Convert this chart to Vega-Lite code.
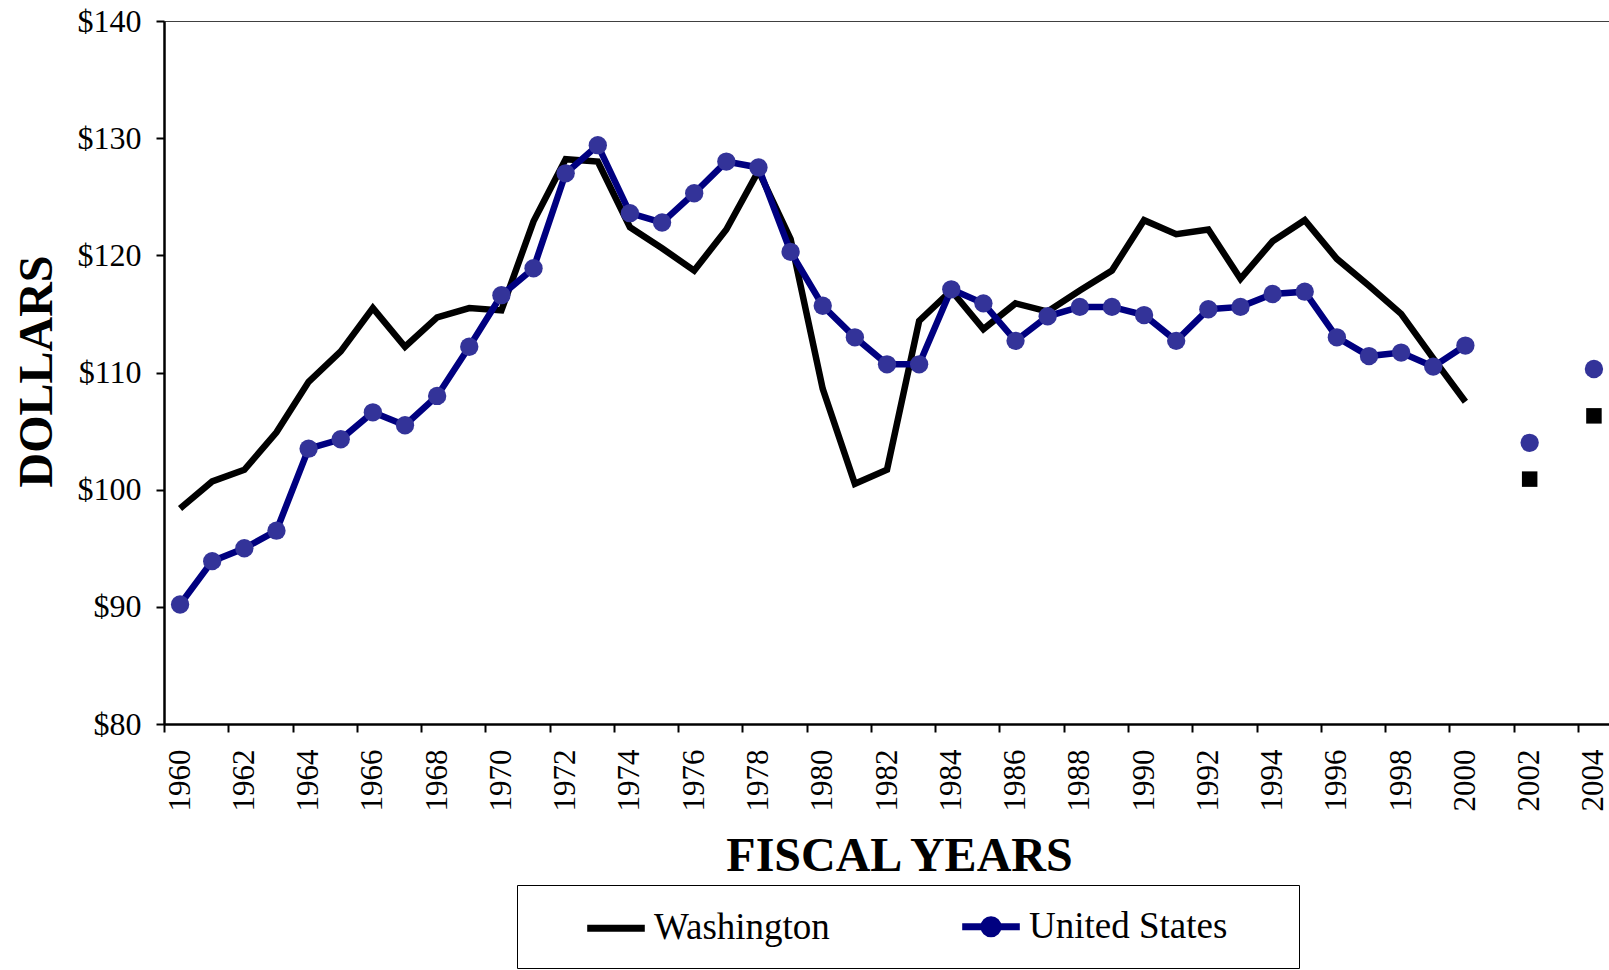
{
  "$schema": "https://vega.github.io/schema/vega-lite/v6.json",
  "width": 1446,
  "height": 703,
  "autosize": "none",
  "padding": {"left": 164, "top": 21, "right": 0, "bottom": 246},
  "background": "white",
  "config": {
    "view": {"stroke": "#404040", "strokeWidth": 1},
    "font": "Liberation Serif",
    "axis": {"labelFont": "Liberation Serif", "titleFont": "Liberation Serif", "labelColor": "#000", "titleColor": "#000", "domainColor": "#000", "tickColor": "#000", "grid": false}
  },
  "data": {"values": [
    {"year": 1960, "series": "Washington", "value": 98.4},
    {"year": 1961, "series": "Washington", "value": 100.7},
    {"year": 1962, "series": "Washington", "value": 101.7},
    {"year": 1963, "series": "Washington", "value": 104.9},
    {"year": 1964, "series": "Washington", "value": 109.2},
    {"year": 1965, "series": "Washington", "value": 111.8},
    {"year": 1966, "series": "Washington", "value": 115.5},
    {"year": 1967, "series": "Washington", "value": 112.2},
    {"year": 1968, "series": "Washington", "value": 114.7},
    {"year": 1969, "series": "Washington", "value": 115.5},
    {"year": 1970, "series": "Washington", "value": 115.3},
    {"year": 1971, "series": "Washington", "value": 122.9},
    {"year": 1972, "series": "Washington", "value": 128.2},
    {"year": 1973, "series": "Washington", "value": 128.0},
    {"year": 1974, "series": "Washington", "value": 122.4},
    {"year": 1975, "series": "Washington", "value": 120.6},
    {"year": 1976, "series": "Washington", "value": 118.7},
    {"year": 1977, "series": "Washington", "value": 122.2},
    {"year": 1978, "series": "Washington", "value": 127.2},
    {"year": 1979, "series": "Washington", "value": 121.4},
    {"year": 1980, "series": "Washington", "value": 108.6},
    {"year": 1981, "series": "Washington", "value": 100.5},
    {"year": 1982, "series": "Washington", "value": 101.7},
    {"year": 1983, "series": "Washington", "value": 114.4},
    {"year": 1984, "series": "Washington", "value": 117.0},
    {"year": 1985, "series": "Washington", "value": 113.7},
    {"year": 1986, "series": "Washington", "value": 115.9},
    {"year": 1987, "series": "Washington", "value": 115.2},
    {"year": 1988, "series": "Washington", "value": 117.0},
    {"year": 1989, "series": "Washington", "value": 118.7},
    {"year": 1990, "series": "Washington", "value": 123.0},
    {"year": 1991, "series": "Washington", "value": 121.8},
    {"year": 1992, "series": "Washington", "value": 122.2},
    {"year": 1993, "series": "Washington", "value": 118.0},
    {"year": 1994, "series": "Washington", "value": 121.2},
    {"year": 1995, "series": "Washington", "value": 123.0},
    {"year": 1996, "series": "Washington", "value": 119.7},
    {"year": 1997, "series": "Washington", "value": 117.4},
    {"year": 1998, "series": "Washington", "value": 115.0},
    {"year": 1999, "series": "Washington", "value": 111.2},
    {"year": 2000, "series": "Washington", "value": 107.5},
    {"year": 2002, "series": "Washington", "value": 100.9},
    {"year": 2004, "series": "Washington", "value": 106.3},
    {"year": 1960, "series": "United States", "value": 90.2},
    {"year": 1961, "series": "United States", "value": 93.9},
    {"year": 1962, "series": "United States", "value": 95.0},
    {"year": 1963, "series": "United States", "value": 96.5},
    {"year": 1964, "series": "United States", "value": 103.5},
    {"year": 1965, "series": "United States", "value": 104.3},
    {"year": 1966, "series": "United States", "value": 106.6},
    {"year": 1967, "series": "United States", "value": 105.5},
    {"year": 1968, "series": "United States", "value": 108.0},
    {"year": 1969, "series": "United States", "value": 112.2},
    {"year": 1970, "series": "United States", "value": 116.6},
    {"year": 1971, "series": "United States", "value": 118.9},
    {"year": 1972, "series": "United States", "value": 127.0},
    {"year": 1973, "series": "United States", "value": 129.4},
    {"year": 1974, "series": "United States", "value": 123.6},
    {"year": 1975, "series": "United States", "value": 122.8},
    {"year": 1976, "series": "United States", "value": 125.3},
    {"year": 1977, "series": "United States", "value": 128.0},
    {"year": 1978, "series": "United States", "value": 127.5},
    {"year": 1979, "series": "United States", "value": 120.3},
    {"year": 1980, "series": "United States", "value": 115.7},
    {"year": 1981, "series": "United States", "value": 113.0},
    {"year": 1982, "series": "United States", "value": 110.7},
    {"year": 1983, "series": "United States", "value": 110.7},
    {"year": 1984, "series": "United States", "value": 117.1},
    {"year": 1985, "series": "United States", "value": 115.9},
    {"year": 1986, "series": "United States", "value": 112.7},
    {"year": 1987, "series": "United States", "value": 114.8},
    {"year": 1988, "series": "United States", "value": 115.6},
    {"year": 1989, "series": "United States", "value": 115.6},
    {"year": 1990, "series": "United States", "value": 114.9},
    {"year": 1991, "series": "United States", "value": 112.7},
    {"year": 1992, "series": "United States", "value": 115.4},
    {"year": 1993, "series": "United States", "value": 115.6},
    {"year": 1994, "series": "United States", "value": 116.7},
    {"year": 1995, "series": "United States", "value": 116.9},
    {"year": 1996, "series": "United States", "value": 113.0},
    {"year": 1997, "series": "United States", "value": 111.4},
    {"year": 1998, "series": "United States", "value": 111.7},
    {"year": 1999, "series": "United States", "value": 110.5},
    {"year": 2000, "series": "United States", "value": 112.3},
    {"year": 2002, "series": "United States", "value": 104.0},
    {"year": 2004, "series": "United States", "value": 110.3}
  ]},
  "encoding": {
    "x": {
      "field": "year", "type": "quantitative",
      "scale": {"domain": [1959.5, 2004.5], "nice": false, "zero": false},
      "axis": {
        "values": [1960, 1962, 1964, 1966, 1968, 1970, 1972, 1974, 1976, 1978, 1980, 1982, 1984, 1986, 1988, 1990, 1992, 1994, 1996, 1998, 2000, 2002, 2004],
        "format": "d", "tickOffset": -16.07, "labelOffset": 16.07, "labelAngle": -90,
        "labelFontSize": 31, "labelPadding": 17, "labelFlush": false, "labelOverlap": false, "labelBound": false,
        "tickSize": 8, "tickWidth": 2, "domainWidth": 2.5,
        "title": "FISCAL YEARS", "titleFontSize": 48, "titleFontWeight": "bold",
        "titleX": 735, "titleY": 146, "titleAlign": "center", "titleBaseline": "alphabetic"
      }
    },
    "y": {
      "field": "value", "type": "quantitative",
      "scale": {"domain": [80, 140], "nice": false, "zero": false},
      "axis": {
        "values": [80, 90, 100, 110, 120, 130, 140],
        "labelExpr": "'$' + datum.value",
        "labelFontSize": 32, "labelPadding": 15,
        "tickSize": 8, "tickWidth": 2, "domainWidth": 2.5,
        "title": "DOLLARS", "titleFontSize": 48, "titleFontWeight": "bold",
        "titleX": -113, "titleY": 350, "titleAngle": -90, "titleAlign": "center", "titleBaseline": "alphabetic"
      }
    }
  },
  "layer": [
    {
      "transform": [{"filter": "datum.year <= 2000"}],
      "mark": {"type": "line", "strokeWidth": 6.5},
      "encoding": {
        "color": {
          "field": "series", "type": "nominal",
          "scale": {"domain": ["Washington", "United States"], "range": ["#000000", "#000080"]},
          "legend": {
            "orient": "none", "legendX": 353, "legendY": 864,
            "direction": "horizontal", "columns": 2, "title": null,
            "labelFont": "Liberation Serif", "labelFontSize": 37, "labelColor": "#000", "labelLimit": 500,
            "strokeColor": "#000", "padding": 20, "columnPadding": 67,
            "symbolSize": 1296, "symbolStrokeWidth": 7, "symbolOffset": 57.5, "labelOffset": 16.5,
            "encode": {
              "symbols": {
                "update": {
                  "shape": {"signal": "datum.value === 'Washington' ? 'M-4.39,0M-1.6,0H1.6' : 'M-4.39,0M-1.6,0H1.6M0.39,0A0.39,0.39,0,1,1,-0.39,0A0.39,0.39,0,1,1,0.39,0ZM15.2,0'"},
                  "stroke": {"signal": "datum.value === 'Washington' ? '#000000' : '#000080'"},
                  "fill": {"value": "#333399"},
                  "strokeWidth": {"value": 7},
                  "opacity": {"value": 1}
                }
              }
            }
          }
        }
      }
    },
    {
      "transform": [{"filter": "datum.series === 'United States'"}],
      "mark": {"type": "point", "shape": "circle", "filled": true, "size": 336, "color": "#333399", "opacity": 1}
    },
    {
      "transform": [{"filter": "datum.series === 'Washington' && datum.year > 2000"}],
      "mark": {"type": "square", "size": 240, "color": "#000000", "opacity": 1}
    }
  ]
}
